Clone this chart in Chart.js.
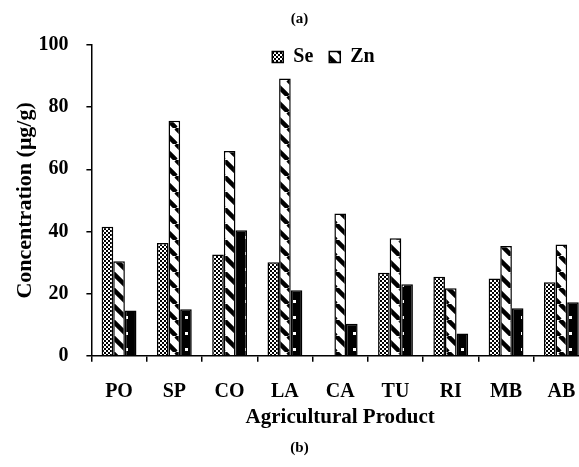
<!DOCTYPE html>
<html>
<head>
<meta charset="utf-8">
<script src="https://cdn.jsdelivr.net/npm/chart.js@4"></script>
<style>
  html, body { margin: 0; padding: 0; overflow: hidden; background: #fff; }
</style>
</head>
<body>
<canvas id="chart1" width="600" height="467"></canvas>
<script>
const products = ['PO', 'SP', 'CO', 'LA', 'CA', 'TU', 'RI', 'MB', 'AB'];
const seValues = [41.5, 36.3, 32.6, 30.1, null, 26.7, 25.4, 24.9, 23.7];
const znValues = [30.4, 75.6, 65.9, 89.2, 45.8, 37.8, 21.7, 35.3, 35.8];
const thirdValues = [14.6, 15.0, 40.4, 21.1, 10.3, 23.0, 7.2, 15.3, 17.2];
const yTicks = [0, 20, 40, 60, 80, 100];

const serif = "'Liberation Serif', 'Times New Roman', serif";

function makePattern(w, h, draw) {
  const c = document.createElement('canvas');
  c.width = w;
  c.height = h;
  const g = c.getContext('2d');
  draw(g);
  return g.createPattern(c, 'repeat');
}

// small checker for Se
const checker = makePattern(4, 4, g => {
  g.fillStyle = '#fff';
  g.fillRect(0, 0, 4, 4);
  g.fillStyle = '#000';
  g.fillRect(0, 0, 2, 2);
  g.fillRect(2, 2, 2, 2);
});

// wide downward diagonal for Zn
const stripes = makePattern(16, 16, g => {
  g.fillStyle = '#fff';
  g.fillRect(0, 0, 16, 16);
  g.strokeStyle = '#000';
  g.lineWidth = 4.5;
  [-16, 0, 16].forEach(k => {
    g.beginPath();
    g.moveTo(k, 0);
    g.lineTo(k + 16, 16);
    g.stroke();
  });
});

// black with sparse white dots
const dots = makePattern(12, 16, g => {
  g.fillStyle = '#000';
  g.fillRect(0, 0, 12, 16);
  g.fillStyle = '#fff';
  g.fillRect(5, 12, 3, 3);
});

// legend sits inside the plot, like the original:
// it takes little room in the layout but is drawn over the top of the plot
const legendInside = {
  id: 'legendInside',
  beforeInit(chart) {
    const fit = chart.legend.fit;
    chart.legend.fit = function () {
      fit.call(this);
      this.height = 17;
    };
  },
  afterLayout(chart) {
    const lg = chart.legend;
    lg.left = 58;
    lg.width = lg.right - lg.left;
    lg.top += 3;
    lg.bottom = lg.top + 50;
    lg.height = 50;
  }
};

const ctx1 = document.getElementById('chart1');
new Chart(ctx1, {
  type: 'bar',
  data: {
    labels: products,
    datasets: [{
      label: 'Se',
      data: seValues,
      backgroundColor: checker,
      borderColor: '#000',
      borderWidth: 1.5
    }, {
      label: 'Zn',
      data: znValues,
      backgroundColor: stripes,
      borderColor: '#000',
      borderWidth: 1.5
    }, {
      label: 'Series 3',
      data: thirdValues,
      backgroundColor: dots,
      borderColor: '#000',
      borderWidth: 1.5
    }]
  },
  options: {
    responsive: false,
    animation: false,
    categoryPercentage: 0.63,
    barPercentage: 1.0,
    layout: {
      padding: { left: 10, right: 11, top: 0, bottom: 0 }
    },
    scales: {
      x: {
        grid: {
          offset: true,
          drawOnChartArea: false,
          color: '#000',
          lineWidth: 1.5,
          tickLength: 6
        },
        border: { color: '#000', width: 1.5 },
        ticks: {
          color: '#000',
          padding: 18,
          font: { family: serif, size: 20, weight: 'bold' }
        },
        title: {
          display: true,
          text: 'Agricultural Product',
          color: '#000',
          padding: { top: -17, bottom: 0 },
          font: { family: serif, size: 21, weight: 'bold' }
        }
      },
      y: {
        min: 0,
        max: 100,
        afterBuildTicks: axis => {
          axis.ticks = yTicks.map(v => ({ value: v }));
        },
        grid: {
          drawOnChartArea: false,
          color: '#000',
          lineWidth: 1.5,
          tickLength: 5
        },
        border: { color: '#000', width: 1.5 },
        ticks: {
          color: '#000',
          padding: 18,
          font: { family: serif, size: 20, weight: 'bold' }
        },
        title: {
          display: true,
          text: 'Concentration (μg/g)',
          color: '#000',
          padding: { top: 2, bottom: -18 },
          font: { family: serif, size: 22, weight: 'bold' }
        }
      }
    },
    plugins: {
      title: {
        display: true,
        text: '(a)',
        color: '#000',
        padding: { top: 10, bottom: 0 },
        font: { family: serif, size: 15, weight: 'bold' }
      },
      subtitle: {
        display: true,
        position: 'bottom',
        text: '(b)',
        color: '#000',
        padding: { top: 9, bottom: 10 },
        font: { family: serif, size: 15, weight: 'bold' }
      },
      legend: {
        position: 'top',
        labels: {
          color: '#000',
          boxWidth: 11,
          boxHeight: 11,
          padding: 16,
          font: { family: serif, size: 20, weight: 'bold' },
          filter: item => item.datasetIndex < 2
        }
      },
      tooltip: { enabled: false }
    }
  },
  plugins: [legendInside]
});
</script>
</body>
</html>
